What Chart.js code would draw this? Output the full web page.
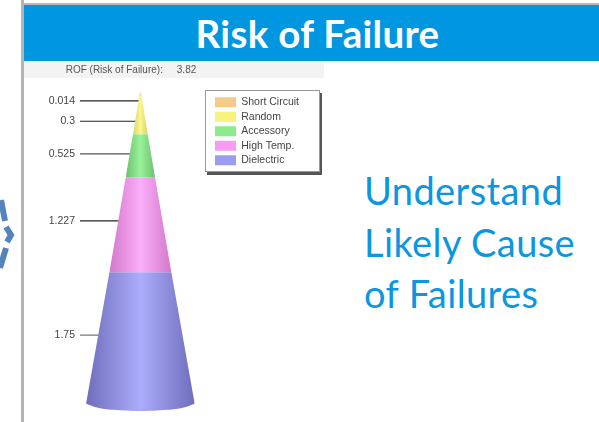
<!DOCTYPE html>
<html><head><meta charset="utf-8">
<script src="https://cdn.jsdelivr.net/npm/chart.js@4"></script>
<style>
html,body{margin:0;padding:0;background:#fff;width:599px;height:422px;overflow:hidden}
#top{position:absolute;left:24px;top:3px;width:575px;height:2px;background:#b8b8b8}
#head{position:absolute;left:24px;top:5px;width:575px;height:56px;background:#0096e0;color:#fff;font:bold 38.5px Lato,sans-serif;letter-spacing:.3px;text-align:center;line-height:56px;text-indent:12px}
#rule{position:absolute;left:21px;top:0;width:3px;height:422px;background:#b4b4b4}
#band{position:absolute;left:24px;top:61px;width:300px;height:17px;background:#f3f3f3}
#wrap{position:absolute;left:24px;top:62px;width:300px;height:360px;filter:blur(.55px)}
#side{position:absolute;left:364px;top:165px;color:#0b96e2;font:38px/51.5px Lato,sans-serif;letter-spacing:.4px;white-space:nowrap}
svg{position:absolute;left:0;top:190px}
</style></head><body>
<div id="rule"></div><div id="top"></div><div id="head">Risk of Failure</div><div id="band"></div>
<svg width="20" height="90"><g fill="none" stroke="#5584bd" stroke-width="6"><path d="M1 10L5 31"/><path d="M6 37L11 45L7 52"/><path d="M6 58L0 78"/></g></svg>
<div id="wrap"><canvas id="c" width="300" height="360"></canvas></div>
<div id="side">Understand<br>Likely Cause<br>of Failures</div>
<script>
const categories=['Short Circuit','Random','Accessory','High Temp.','Dielectric'];
const riskValues=[0.014,0.3,0.525,1.227,1.75];
const riskTotal=3.82;
const tickLabels=['0.014','0.3','0.525','1.227','1.75'];
// apparent (perspective) levels and half widths of the cone
const coneLevels=[3.82,3.77,3.30,2.77,1.61,0];
const coneHalfWidths=[0,0.02,0.135,0.27,0.57,1];
const baseArcX=[-1,-0.8,-0.5,0,0.5,0.8,1];
const baseArcY=[0,-0.045,-0.075,-0.09,-0.075,-0.045,0];
const leaderLevels=[3.71,3.46,3.06,2.24,0.84];
const leaderEnds=[-0.01,-0.065,-0.175,-0.38,-0.75];
const swatchColors=['#f6cb88','#f6f27c','#8ceb8c','#f69cf2','#9a9cf0'];
const gradEdge=['#d8ac6c','#d8d468','#6ec070','#d478cc','#6e6ebc'];
const gradMid=['#f8d496','#fbf78c','#98f298','#faaef8','#acacfc'];
const leaderColors=['#222','#222','#555','#222','#777'];
const X_MIN=-1.148,X_MAX=1.999,Y_MIN=-0.11,Y_MAX=3.99;

function coneFill(i){return c=>{
  const ch=c.chart;if(!ch.chartArea)return swatchColors[i];
  const x=ch.scales.x,g=ch.ctx.createLinearGradient(x.getPixelForValue(-coneHalfWidths[i+1]),0,x.getPixelForValue(coneHalfWidths[i+1]),0);
  g.addColorStop(0,gradEdge[i]);g.addColorStop(.5,gradMid[i]);g.addColorStop(1,gradEdge[i]);return g;};}
const datasets=[];
categories.forEach((name,i)=>{
  const t=coneHalfWidths[i],b=coneHalfWidths[i+1],yt=coneLevels[i],yb=coneLevels[i+1];
  const last=i===categories.length-1;
  datasets.push({label:name,data:[{x:-b,y:yb},{x:-t,y:yt},{x:t,y:yt},{x:b,y:yb}],
    fill:last?'+1':{value:yb},backgroundColor:coneFill(i),borderWidth:0,pointRadius:0,tension:0});
});
datasets.push({label:'base',data:baseArcX.map((x,k)=>({x,y:baseArcY[k]})),fill:false,borderWidth:0,pointRadius:0,tension:.4});
leaderLevels.forEach((y,i)=>{
  datasets.push({label:'leader',data:[{x:-1.11,y},{x:leaderEnds[i],y}],borderColor:leaderColors[i],borderWidth:1.2,pointRadius:0,fill:false});
});
const legendPanel={id:'legendPanel',
  afterLayout(ch){const l=ch.legend;l.top=31;l.bottom=111;l.left=187;l.right=296;},
  beforeDraw(ch){const c=ch.ctx;c.save();
    c.fillStyle='#555';c.fillRect(183,31,115,82);
    c.fillStyle='#fff';c.strokeStyle='#999';c.lineWidth=1;c.fillRect(181.5,28.5,114,81);c.strokeRect(181.5,28.5,114,81);c.restore();}};
new Chart(document.getElementById('c'),{type:'line',
 data:{datasets},
 plugins:[legendPanel],
 options:{responsive:false,animation:false,events:[],
  layout:{padding:{right:0}},
  scales:{
   x:{type:'linear',display:false,min:X_MIN,max:X_MAX},
   y:{type:'linear',min:Y_MIN,max:Y_MAX,position:'left',
      grid:{display:false,drawTicks:false,tickLength:0},border:{display:false},
      afterFit(s){s.width=54;},
      afterBuildTicks(s){s.ticks=leaderLevels.map(value=>({value}));},
      ticks:{autoSkip:false,padding:3,color:'#444',font:{family:'Liberation Sans',size:10.5},
        callback(v){const i=leaderLevels.indexOf(v);return i<0?'':tickLabels[i];}}}
  },
  plugins:{
   title:{display:true,align:'start',text:'\u00a0'.repeat(15)+'ROF (Risk of Failure):     '+riskTotal.toFixed(2),color:'#555',font:{family:'Liberation Sans',size:10,weight:'normal'},padding:{top:2,bottom:2}},
   tooltip:{enabled:false},
   legend:{display:true,position:'right',align:'start',
     labels:{boxWidth:21,boxHeight:10,padding:4,color:'#444',font:{family:'Liberation Sans',size:10.5},
       generateLabels(){return categories.map((text,i)=>({text,fillStyle:swatchColors[i],strokeStyle:swatchColors[i],lineWidth:0,fontColor:'#444',hidden:false,datasetIndex:i}));}}}
  }}});
</script>
</body></html>
